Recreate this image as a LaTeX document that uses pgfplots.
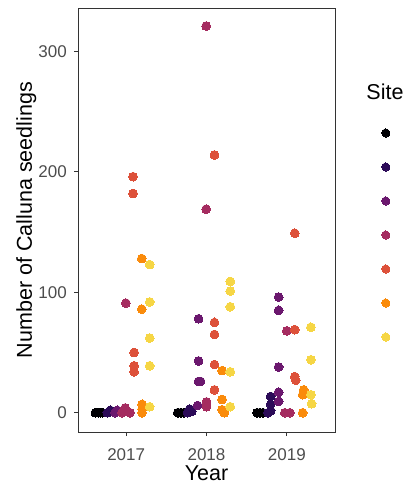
\documentclass[border=0pt]{standalone}
\usepackage{pgfplots}
\pgfplotsset{compat=1.18}
\usepackage{fontspec}
\setmainfont{Liberation Sans}
\definecolor{s1}{HTML}{000004}
\definecolor{s2}{HTML}{2C0B58}
\definecolor{s3}{HTML}{6B186E}
\definecolor{s4}{HTML}{A52C60}
\definecolor{s5}{HTML}{DD513A}
\definecolor{s6}{HTML}{FA8B0B}
\definecolor{s7}{HTML}{F6D645}
\definecolor{tickgrey}{HTML}{4D4D4D}
\definecolor{linegrey}{HTML}{333333}
\begin{document}
\begin{tikzpicture}
\useasboundingbox (-78bp,-53bp) rectangle (331bp,432bp);
\begin{axis}[
  at={(0,0)}, anchor=south west,
  scale only axis, width=257bp, height=424bp,
  xmin=2016.4, xmax=2019.6, ymin=-16, ymax=336,
  axis line style={linegrey, line width=0.9bp},
  xtick={2017,2018,2019}, ytick={0,100,200,300},
  xtick pos=bottom, ytick pos=left,
  tick align=outside, major tick length=4bp,
  tick style={linegrey, line width=1.1bp},
  /pgf/number format/assume math mode=true,
  x tick label style={/pgf/number format/1000 sep=},
  ticklabel style={font=\fontsize{17bp}{19bp}\selectfont, text=tickgrey, inner sep=0pt},
  xticklabel style={anchor=north, yshift=-12bp},
  yticklabel style={anchor=east, xshift=-7bp},
  xlabel={Year},
  ylabel={Number of Calluna seedlings},
  label style={font=\fontsize{21.5bp}{25bp}\selectfont, inner sep=0pt},
  xlabel style={at={([yshift=-48bp]axis description cs:0.5,0)}, anchor=base},
  ylabel style={at={([xshift=-46bp]axis description cs:0,0.5)}, anchor=base},
  every axis plot/.append style={only marks, mark=*, mark size=4.4bp, mark options={line width=0pt}},
  legend image code/.code={\draw[#1, mark size=4.1bp] plot coordinates {(0,0)};},
  legend style={draw=none, fill=none, inner sep=0pt, outer sep=0pt, row sep=0pt,
    at={(axis description cs:1.1817,0.7453)}, anchor=north west,
    nodes={inner sep=0pt, outer sep=0pt, text height=17bp, text depth=17bp, text width=0pt}},
]
\addplot[color=s1] coordinates {
(2016.617,0)(2016.654,0)(2016.679,0)(2016.704,0)
(2017.642,0)(2017.679,0)(2017.716,0)
(2018.630,0)(2018.667,0)(2018.704,0)};
\addlegendentry{}
\addplot[color=s2] coordinates {
(2016.765,0)(2016.802,2)(2016.827,1)
(2017.765,0)(2017.790,3)(2017.815,1)
(2018.765,0)(2018.799,1.7)(2018.799,7)(2018.799,13.5)};
\addlegendentry{}
\addplot[color=s3] coordinates {
(2016.864,0)(2016.889,2)(2016.926,1)
(2017.901,78)(2017.901,43)(2017.901,26)(2017.926,26)(2017.889,6)
(2018.898,96)(2018.898,85)(2018.898,38)(2018.898,17)(2018.898,9.4)};
\addlegendentry{}
\addplot[color=s4] coordinates {
(2016.951,0)(2016.988,4)(2017.012,1)(2017.049,0)(2016.996,91)
(2017.996,321)(2017.996,169)(2018.0,9)(2018.0,5)
(2019.0,68)(2018.975,0)(2019.037,0)};
\addlegendentry{}
\addplot[color=s5] coordinates {
(2017.086,196)(2017.086,182)(2017.099,50)(2017.099,39)(2017.099,34)
(2018.099,214)(2018.099,75)(2018.099,65)(2018.099,40)(2018.099,19)
(2019.099,149)(2019.099,69)(2019.099,30)(2019.111,27)};
\addlegendentry{}
\addplot[color=s6] coordinates {
(2017.194,128)(2017.194,86)(2017.198,7)(2017.198,3)(2017.198,0)
(2018.194,35)(2018.194,11)(2018.194,2.5)(2018.222,0)
(2019.21,19)(2019.198,15)(2019.198,0)};
\addlegendentry{}
\addplot[color=s7] coordinates {
(2017.293,123)(2017.293,92)(2017.293,62)(2017.293,39)(2017.293,5)
(2018.296,109)(2018.296,101)(2018.296,88)(2018.296,34)(2018.296,5)
(2019.3,71)(2019.3,44)(2019.3,15)(2019.309,7.5)};
\addlegendentry{}
\end{axis}
\node[anchor=base, inner sep=0pt, font=\fontsize{21.5bp}{25bp}\selectfont] at (307bp,332bp) {Site};
\end{tikzpicture}
\end{document}
